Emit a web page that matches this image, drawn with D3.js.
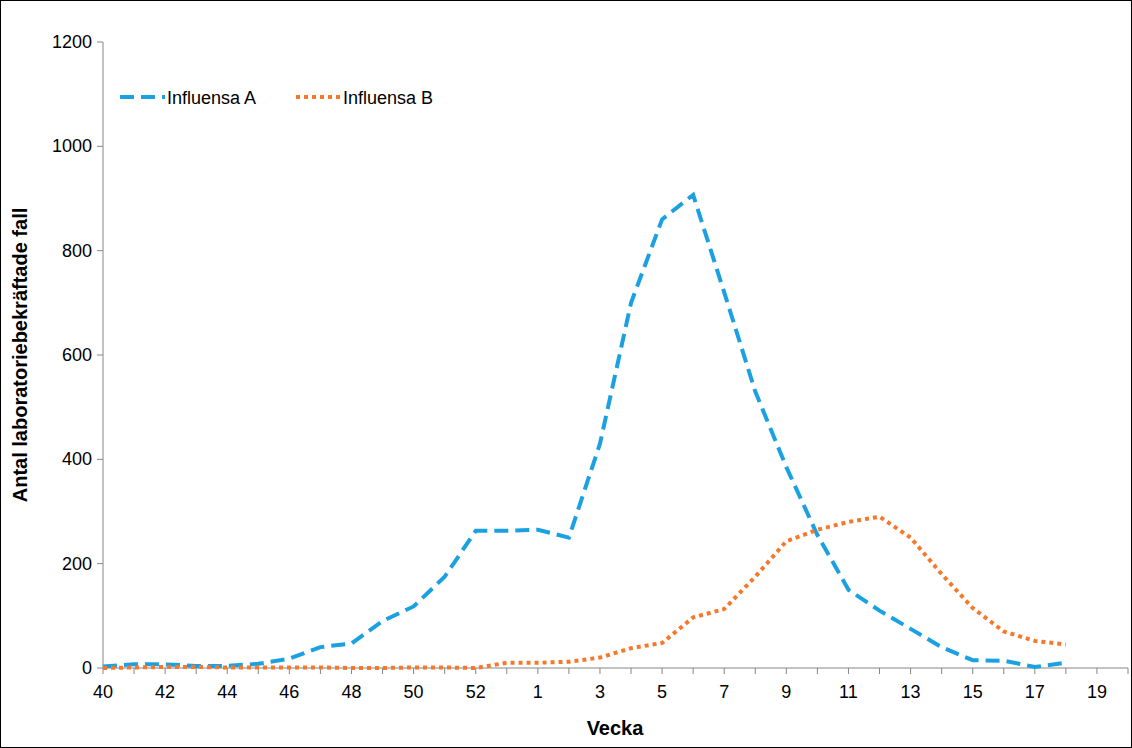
<!DOCTYPE html>
<html><head><meta charset="utf-8">
<script src="https://cdn.jsdelivr.net/npm/d3@7"></script>
<style>body{margin:0;background:#fff}svg{font-family:"Liberation Sans",Arial,sans-serif}</style>
</head><body><svg id="c" width="1132" height="748"></svg>
<script>
const weeks=[40,41,42,43,44,45,46,47,48,49,50,51,52,53,1,2,3,4,5,6,7,8,9,10,11,12,13,14,15,16,17,18];
const tickLabels=["40","42","44","46","48","50","52","1","3","5","7","9","11","13","15","17","19"];
const influensaA=[3,7,7,4,4,8,18,40,47,90,118,175,263,263,265,250,430,700,860,907,720,530,385,255,150,110,75,40,15,14,2,10];
const influensaB=[0,1,2,2,1,1,1,1,0,0,1,1,0,10,10,12,20,38,48,97,113,175,243,265,280,290,250,180,115,70,52,45];
const yTicks=[0,200,400,600,800,1000,1200];

const svg=d3.select("#c");
svg.append("rect").attr("x",0.5).attr("y",0.5).attr("width",1131).attr("height",747).attr("fill","none").attr("stroke","#000");
const x=d3.scaleLinear().domain([0,33]).range([103,1128]);
const y=d3.scaleLinear().domain([0,1200]).range([668,42]);
const g=svg.append("g");
// y axis
g.append("line").attr("x1",103).attr("x2",103).attr("y1",42).attr("y2",668).attr("stroke","#868686");
yTicks.forEach(v=>{
 g.append("line").attr("x1",97).attr("x2",103).attr("y1",y(v)).attr("y2",y(v)).attr("stroke","#868686");
 g.append("text").attr("x",92).attr("y",y(v)+6).attr("text-anchor","end").attr("font-size",18).text(v);
});
// x axis
g.append("line").attr("x1",103).attr("x2",1128).attr("y1",668).attr("y2",668).attr("stroke","#868686");
d3.range(0,34).forEach(i=>g.append("line").attr("x1",x(i)).attr("x2",x(i)).attr("y1",668).attr("y2",674).attr("stroke","#868686"));
tickLabels.forEach((t,k)=>g.append("text").attr("x",x(k*2)).attr("y",698).attr("text-anchor","middle").attr("font-size",18).text(t));
svg.append("text").attr("x",615).attr("y",735).attr("text-anchor","middle").attr("font-size",20).attr("font-weight","bold").text("Vecka");
svg.append("text").attr("transform","translate(27,355) rotate(-90)").attr("text-anchor","middle").attr("font-size",20).attr("font-weight","bold").text("Antal laboratoriebekräftade fall");
const line=d3.line().x((d,i)=>x(i)).y(d=>y(d));
svg.append("path").datum(influensaA).attr("d",line).attr("fill","none").attr("stroke","#1ba1e2").attr("stroke-width",4).attr("stroke-dasharray","14,7");
svg.append("path").datum(influensaB).attr("d",line).attr("fill","none").attr("stroke","#f7782a").attr("stroke-width",4).attr("stroke-dasharray","4,4");
// legend
svg.append("line").attr("x1",120).attr("x2",165).attr("y1",97).attr("y2",97).attr("stroke","#1ba1e2").attr("stroke-width",4).attr("stroke-dasharray","14,7");
svg.append("text").attr("x",167).attr("y",104).attr("font-size",18).text("Influensa A");
svg.append("line").attr("x1",296).attr("x2",340).attr("y1",97).attr("y2",97).attr("stroke","#f7782a").attr("stroke-width",4).attr("stroke-dasharray","4,4");
svg.append("text").attr("x",343).attr("y",104).attr("font-size",18).text("Influensa B");
</script></body></html>
